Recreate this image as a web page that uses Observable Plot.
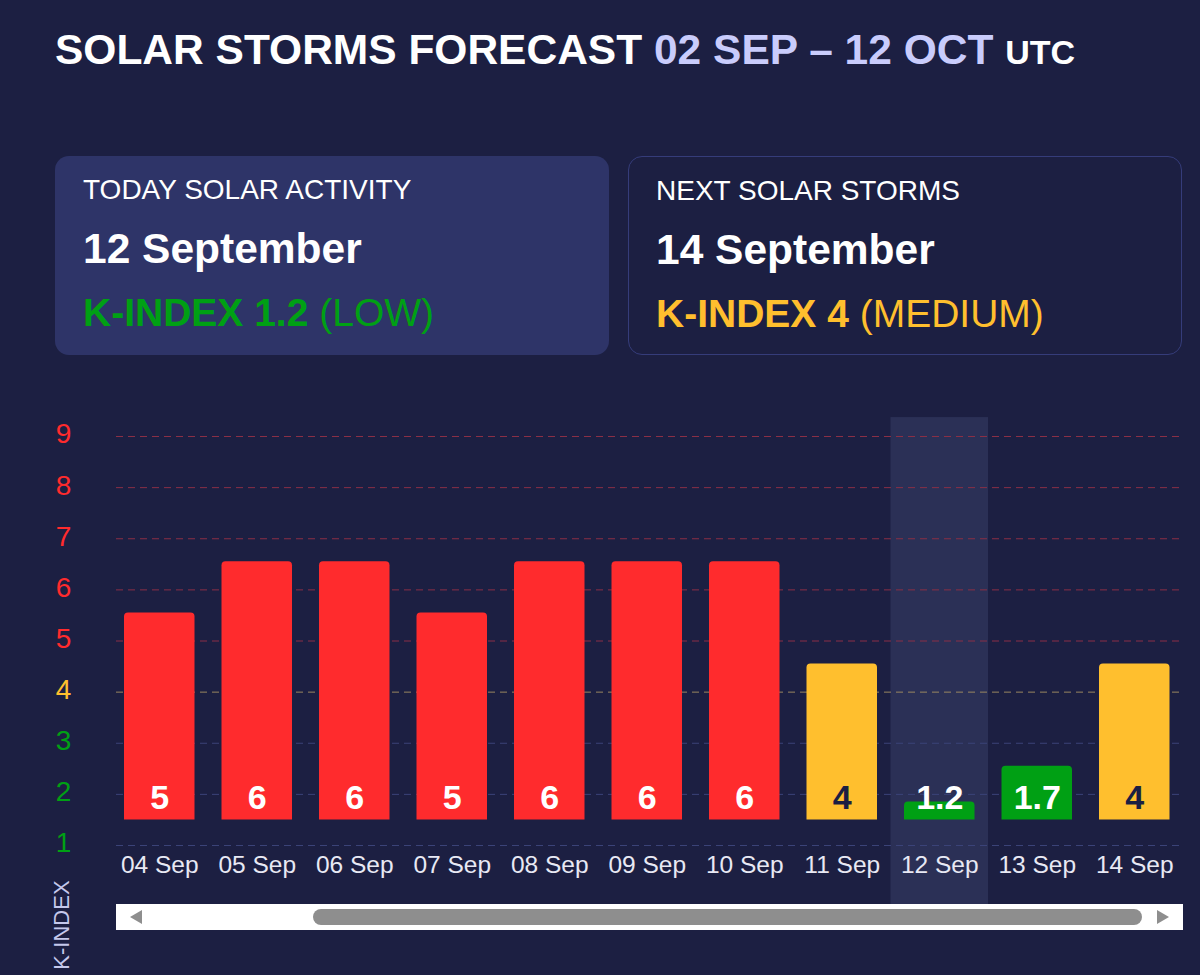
<!DOCTYPE html>
<html><head><meta charset="utf-8">
<script src="https://cdn.jsdelivr.net/npm/d3@7"></script>
<script src="https://cdn.jsdelivr.net/npm/@observablehq/plot@0.6"></script>
<style>
html,body{margin:0;padding:0;background:#1c1f42;width:1200px;height:975px;overflow:hidden;font-family:"Liberation Sans",Arial,sans-serif;}
#title{position:absolute;left:55px;top:25px;font-size:42.5px;font-weight:bold;color:#fff;white-space:nowrap;line-height:50px;}
#title .range{color:#c9ccfc;}
#title .utc{font-size:34px;}
.card{position:absolute;top:156px;width:554px;height:199px;border-radius:14px;box-sizing:border-box;}
#c1{left:55px;background:#2e3468;}
#c2{left:628px;border:1.5px solid #353c7a;}
.card .h{position:absolute;left:28px;top:18px;font-size:28px;color:#fff;white-space:nowrap;}
.card .d{position:absolute;left:28px;top:69px;font-size:42.5px;font-weight:bold;color:#fff;white-space:nowrap;}
.card .k{position:absolute;left:28px;top:135px;font-size:39px;white-space:nowrap;}
#c2 .h,#c2 .d,#c2 .k{left:27px;}
.k b{font-weight:bold;}
#chart{position:absolute;left:0;top:400px;}
#klabel{position:absolute;left:62px;top:925px;transform:translate(-50%,-50%) rotate(-90deg);font-size:22px;color:#c5c8ec;white-space:nowrap;}
#scroll{position:absolute;left:116px;top:904px;width:1067px;height:26px;background:#fff;}
#thumb{position:absolute;left:197px;top:5px;width:829px;height:16px;border-radius:8px;background:#8e8e8e;}
#larr{position:absolute;left:14px;top:6px;width:0;height:0;border-top:7px solid transparent;border-bottom:7px solid transparent;border-right:12px solid #8e8e8e;}
#rarr{position:absolute;left:1041px;top:6px;width:0;height:0;border-top:7px solid transparent;border-bottom:7px solid transparent;border-left:12px solid #8e8e8e;}
</style></head>
<body>
<div id="title">SOLAR STORMS FORECAST <span class="range">02 SEP – 12 OCT</span> <span class="utc">UTC</span></div>
<div class="card" id="c1">
  <div class="h">TODAY SOLAR ACTIVITY</div>
  <div class="d">12 September</div>
  <div class="k" style="color:#00a014"><b>K-INDEX 1.2</b> (LOW)</div>
</div>
<div class="card" id="c2">
  <div class="h">NEXT SOLAR STORMS</div>
  <div class="d">14 September</div>
  <div class="k" style="color:#ffbf2e"><b>K-INDEX 4</b> (MEDIUM)</div>
</div>
<div id="chart"></div>
<div id="klabel">K-INDEX</div>
<div id="scroll"><div id="larr"></div><div id="thumb"></div><div id="rarr"></div></div>
<script>
// ---- data ----
const dates = ["04 Sep","05 Sep","06 Sep","07 Sep","08 Sep","09 Sep","10 Sep","11 Sep","12 Sep","13 Sep","14 Sep"];
const kIndex = [5, 6, 6, 5, 6, 6, 6, 4, 1.2, 1.7, 4];
// bar top as read against the axis
const barLevel = [5.55, 6.55, 6.55, 5.55, 6.55, 6.55, 6.55, 4.55, 1.85, 2.55, 4.55];
const barBase = 1.5;
const todayDate = "12 Sep";
const yTicks = [1, 2, 3, 4, 5, 6, 7, 8, 9];

const RED = "#ff2b2d", YELLOW = "#ffbf2e", GREEN = "#00a014";
const levelOf = k => k >= 5 ? "high" : k >= 4 ? "medium" : "low";
const data = dates.map((date, i) => ({date, k: kIndex[i], top: barLevel[i], level: levelOf(kIndex[i])}));

const font = "Liberation Sans, Arial, sans-serif";
const tickText = (lvl, fill) => Plot.text(yTicks.filter(t => levelOf(t) === lvl), {y: d => d, frameAnchor: "left", dx: -47.5, dy: -2, textAnchor: "middle", fill, fontSize: 28});
const chart = Plot.plot({
  width: 1200,
  height: 575,
  marginLeft: 110.5,
  marginRight: 17,
  marginTop: 36,
  marginBottom: 130,
  style: {background: "transparent", fontFamily: font, overflow: "visible"},
  x: {type: "band", domain: dates, padding: 0, round: false, label: null},
  y: {domain: [1, 9], axis: null},
  color: {domain: ["low", "medium", "high"], range: [GREEN, YELLOW, RED]},
  marks: [
    Plot.barY([todayDate], {x: d => d, y1: -0.17, y2: 9.37, fill: "#2b3056"}),
    Plot.ruleY(yTicks.filter(t => levelOf(t) === "high"), {stroke: "#8a2f46", strokeDasharray: "7,5", insetLeft: 5.5}),
    Plot.ruleY(yTicks.filter(t => levelOf(t) === "medium"), {stroke: "#9a8660", strokeDasharray: "7,5", insetLeft: 5.5}),
    Plot.ruleY(yTicks.filter(t => levelOf(t) === "low"), {stroke: "#3b4378", strokeDasharray: "7,5", insetLeft: 5.5}),
    Plot.barY(data, {x: "date", y1: barBase, y2: "top", fill: "level", insetLeft: 13.5, insetRight: 13.5, ry1: 4}),
    Plot.text(data.filter(d => d.level !== "medium"), {x: "date", y: barBase, text: d => String(d.k), lineAnchor: "bottom", dy: -11, fill: "#ffffff", fontSize: 34, fontWeight: "bold"}),
    Plot.text(data.filter(d => d.level === "medium"), {x: "date", y: barBase, text: d => String(d.k), lineAnchor: "bottom", dy: -11, fill: "#1c1f42", fontSize: 34, fontWeight: "bold"}),
    tickText("high", RED),
    tickText("medium", YELLOW),
    tickText("low", GREEN),
    Plot.axisX({tickSize: 0, tickPadding: 10, fontSize: 24.5, color: "#e8e9f4", label: null})
  ]
});
document.getElementById("chart").appendChild(chart);
</script>
</body></html>
